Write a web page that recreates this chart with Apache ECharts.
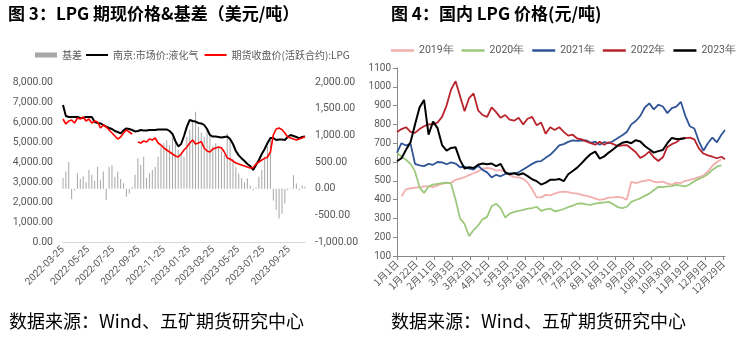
<!DOCTYPE html>
<html><head><meta charset="utf-8">
<script src="https://cdn.jsdelivr.net/npm/echarts@6/dist/echarts.min.js"></script>
<style>html,body{margin:0;padding:0;background:#fff}#c{width:744px;height:340px}</style>
</head><body><div id="c"></div>
<script>
// ---------- Left chart (图3) ----------
const leftStartDate = '2022-03-25';
const leftDayCount = 589;          // daily categories 2022-03-25 .. 2023-11-03
const leftStep = 7;                // one reading per week
const leftTickLabels = ['2022-03-25','2022-05-25','2022-07-25','2022-09-25','2022-11-25',
  '2023-01-25','2023-03-25','2023-05-25','2023-07-25','2023-09-25'];
const basis = [200,320,500,-200,-30,290,180,230,120,350,
  260,150,410,160,320,-210,410,440,225,320,
  180,100,-150,-90,30,260,570,450,600,200,
  290,350,410,600,790,850,910,820,950,870,
  725,660,600,975,1100,1250,1440,1160,1050,975,
  1100,1000,790,850,760,700,630,1035,900,560,
  400,285,200,120,190,60,-30,20,225,350,
  600,790,910,-220,-400,-560,-470,-280,-30,10,
  250,95,-30,60,40];
const nanjing = [6850,6300,6250,6250,6250,6250,6200,6200,6250,6250,
  6250,6000,5950,5930,5850,5770,5700,5650,5550,5500,
  5430,5580,5680,5650,5600,5530,5550,5600,5580,5570,
  5600,5600,5600,5630,5630,5630,5630,5550,5400,5050,
  4780,4900,5300,5770,6100,6050,6020,5950,5930,5850,
  5650,5350,5270,5270,5250,5230,5250,5270,5150,4900,
  4550,4330,4180,4050,3900,3800,3600,3850,4100,4400,
  4650,4950,5200,5200,5100,5130,5120,5100,5250,5350,
  5300,5250,5180,5250,5280];
const futures = [6150,5900,6050,6100,5950,6200,6150,6250,6050,6150,
  5950,6050,6000,5700,5850,5750,5600,5450,5300,5150,
  5250,5450,5600,5500,5400,null,5000,4950,5050,5000,
  5150,5100,5200,4950,4850,4700,4600,4500,4400,4300,
  4250,4400,4600,4750,4950,5100,4900,4950,5020,4700,
  4550,4500,4650,4700,4750,4700,4500,4200,4150,4050,
  3950,3900,3850,3800,3750,3700,3720,3900,4000,4100,
  4180,4250,4500,5350,5650,5700,5620,5450,5250,5200,
  5150,5100,5150,5200,5280];

// ---------- Right chart (图4) ----------
const monthLengths = [31,28,31,30,31,30,31,31,30,31,30,31];
const rightStep = 5;
const rightTickLabels = ['1月1日','1月22日','2月11日','3月3日','3月23日','4月12日','5月3日','5月23日',
  '6月12日','7月2日','7月22日','8月11日','8月31日','9月20日','10月10日','10月30日','11月19日','12月9日','12月29日'];
const y2019 = [null,418,455,460,463,466,470,470,466,475,
  485,488,490,505,512,520,530,540,550,565,
  568,565,555,556,550,530,520,518,510,490,
  455,412,412,425,422,432,440,442,440,435,
  432,425,420,415,405,398,402,410,412,415,
  410,400,495,488,495,500,505,495,492,496,
  485,480,490,488,500,505,512,520,528,548,
  580,600,615];
const y2020 = [650,628,612,590,550,465,435,470,480,484,
  487,490,485,400,300,270,205,238,262,295,
  308,365,378,355,305,325,335,340,345,352,
  355,362,340,348,352,338,342,350,360,368,
  378,380,375,372,378,382,385,388,375,360,
  355,362,388,398,407,420,432,450,468,466,
  470,472,478,474,470,482,498,510,520,535,
  558,575,582];
const y2021 = [650,700,688,698,590,582,578,590,585,600,
  598,588,598,592,572,575,565,560,580,558,
  545,518,532,524,536,540,540,545,560,575,
  590,602,605,622,638,662,688,695,707,715,
  712,714,715,702,708,692,706,700,712,728,
  742,760,800,818,845,890,912,880,905,895,
  860,887,895,920,845,790,778,710,660,700,
  730,705,745,770];
const y2022 = [760,775,785,760,755,775,790,800,800,810,
  840,900,985,1030,950,870,940,965,875,850,
  840,890,865,835,850,825,820,835,800,830,
  840,795,810,750,785,770,785,760,740,745,
  725,720,710,700,692,708,692,705,695,685,
  688,690,672,652,622,635,655,625,605,625,
  680,695,705,725,727,730,720,672,645,635,
  628,620,628,615];
const y2023 = [605,620,665,705,800,890,930,745,815,780,
  690,660,675,678,610,565,572,568,585,592,
  588,592,578,590,545,535,540,532,540,525,
  508,498,480,490,505,505,510,498,535,552,
  570,594,620,642,655,618,630,650,668,688,
  702,708,700,716,709,685,668,650,658,664,
  700,728,722,722,728];

// ---------- build axes ----------
const leftCats = [];
const t0 = Date.parse(leftStartDate + 'T00:00:00Z');
for (let i = 0; i < leftDayCount; i++) leftCats.push(new Date(t0 + i * 86400000).toISOString().slice(0, 10));
const rightCats = [];
monthLengths.forEach((n, m) => { for (let d = 1; d <= n; d++) rightCats.push((m + 1) + '月' + d + '日'); });
const rightDay = i => Math.min(i * rightStep, rightCats.length - 1);

const leftPairs = arr => arr.map((v, i) => [leftCats[i * leftStep], v]);
const rightPairs = arr => arr.map((v, i) => [rightCats[rightDay(i)], v]);

const fmt2 = v => Number(v).toLocaleString('en-US', {minimumFractionDigits: 2, maximumFractionDigits: 2});
const grayTxt = '#595959';
const cjk = '"Noto Sans CJK SC", sans-serif';
const num = 'Roboto, "Liberation Sans", sans-serif';

const chart = echarts.init(document.getElementById('c'), null, {renderer: 'canvas'});
chart.setOption({
  animation: false,
  backgroundColor: '#fff',
  title: [
    {text: '图 3：LPG 期现价格&基差（美元/吨）', left: 8, top: 5, padding: 0,
     textStyle: {fontSize: 17, fontWeight: 'bold', color: '#000', fontFamily: cjk}},
    {text: '图 4：国内 LPG 价格(元/吨)', left: 391, top: 5, padding: 0,
     textStyle: {fontSize: 17, fontWeight: 'bold', color: '#000', fontFamily: cjk}},
    {text: '数据来源：Wind、五矿期货研究中心', left: 9, top: 312, padding: 0,
     textStyle: {fontSize: 18, fontWeight: 'normal', color: '#000', fontFamily: cjk}},
    {text: '数据来源：Wind、五矿期货研究中心', left: 391, top: 312, padding: 0,
     textStyle: {fontSize: 18, fontWeight: 'normal', color: '#000', fontFamily: cjk}}
  ],
  legend: [
    {left: 35, top: 50, padding: 0, itemWidth: 22, itemHeight: 5, itemGap: 8,
     textStyle: {fontSize: 10, color: grayTxt, fontFamily: cjk},
     data: [{name: '基差', icon: 'rect'}]},
    {left: 86, top: 50, padding: 0, itemWidth: 22, itemHeight: 2, itemGap: 6,
     textStyle: {fontSize: 10, color: grayTxt, fontFamily: cjk},
     data: [{name: '南京:市场价:液化气', icon: 'rect'}, {name: '期货收盘价(活跃合约):LPG', icon: 'rect'}]},
    {left: 391, top: 45, width: 353, padding: 0, itemWidth: 23, itemHeight: 2.5, itemGap: 8,
     textStyle: {fontSize: 10.5, color: grayTxt, fontFamily: num},
     data: ['2019年', '2020年', '2021年', '2022年', '2023年'].map(n => ({name: n, icon: 'rect'}))}
  ],
  grid: [
    {left: 63, right: 439, top: 82, bottom: 98},
    {left: 397, right: 19, top: 68, bottom: 84}
  ],
  xAxis: [
    {type: 'category', gridIndex: 0, data: leftCats, boundaryGap: false,
     axisLine: {lineStyle: {color: '#d9d9d9', width: 1}}, axisTick: {show: false},
     axisLabel: {rotate: 45, fontSize: 10, color: grayTxt, fontFamily: num, margin: 6,
       interval: (i, v) => leftTickLabels.includes(v)}},
    {type: 'category', gridIndex: 1, data: rightCats, boundaryGap: false,
     axisLine: {lineStyle: {color: '#888', width: 1}},
     axisTick: {show: true, length: 4, lineStyle: {color: '#888'}, interval: (i, v) => rightTickLabels.includes(v)},
     axisLabel: {rotate: 45, fontSize: 10, color: grayTxt, fontFamily: cjk, margin: 6,
       interval: (i, v) => rightTickLabels.includes(v)}}
  ],
  yAxis: [
    {type: 'value', gridIndex: 0, min: 0, max: 8000, interval: 1000,
     axisLine: {show: false}, axisTick: {show: false}, splitLine: {show: false},
     axisLabel: {fontSize: 10.5, color: grayTxt, fontFamily: num, margin: 10, formatter: fmt2}},
    {type: 'value', gridIndex: 0, position: 'right', min: -1000, max: 2000, interval: 500,
     axisLine: {show: false}, axisTick: {show: false}, splitLine: {show: false},
     axisLabel: {fontSize: 10.5, color: grayTxt, fontFamily: num, margin: 10, formatter: fmt2}},
    {type: 'value', gridIndex: 1, min: 100, max: 1100, interval: 100,
     axisLine: {show: true, lineStyle: {color: '#888'}},
     axisTick: {show: true, length: 4, lineStyle: {color: '#888'}},
     splitLine: {show: false},
     axisLabel: {fontSize: 10, color: grayTxt, fontFamily: num, margin: 6, formatter: v => String(v)}}
  ],
  series: [
    {name: '基差', type: 'bar', xAxisIndex: 0, yAxisIndex: 1, barWidth: 1,
     itemStyle: {color: '#a6a6a6'}, data: leftPairs(basis)},
    {name: '南京:市场价:液化气', type: 'line', xAxisIndex: 0, yAxisIndex: 0, symbol: 'none',
     lineStyle: {color: '#000', width: 2}, itemStyle: {color: '#000'}, data: leftPairs(nanjing)},
    {name: '期货收盘价(活跃合约):LPG', type: 'line', xAxisIndex: 0, yAxisIndex: 0, symbol: 'none',
     lineStyle: {color: '#ff0000', width: 1.6}, itemStyle: {color: '#ff0000'}, data: leftPairs(futures)},
    {name: '2019年', type: 'line', xAxisIndex: 1, yAxisIndex: 2, symbol: 'none',
     lineStyle: {color: '#f2aeae', width: 1.8}, itemStyle: {color: '#f2aeae'}, data: rightPairs(y2019)},
    {name: '2020年', type: 'line', xAxisIndex: 1, yAxisIndex: 2, symbol: 'none',
     lineStyle: {color: '#9cc97c', width: 1.8}, itemStyle: {color: '#9cc97c'}, data: rightPairs(y2020)},
    {name: '2021年', type: 'line', xAxisIndex: 1, yAxisIndex: 2, symbol: 'none',
     lineStyle: {color: '#2f5597', width: 1.8}, itemStyle: {color: '#2f5597'}, data: rightPairs(y2021)},
    {name: '2022年', type: 'line', xAxisIndex: 1, yAxisIndex: 2, symbol: 'none',
     lineStyle: {color: '#b8232c', width: 1.8}, itemStyle: {color: '#b8232c'}, data: rightPairs(y2022)},
    {name: '2023年', type: 'line', xAxisIndex: 1, yAxisIndex: 2, symbol: 'none',
     lineStyle: {color: '#000', width: 2}, itemStyle: {color: '#000'}, data: rightPairs(y2023)}
  ]
});
</script>
</body></html>
